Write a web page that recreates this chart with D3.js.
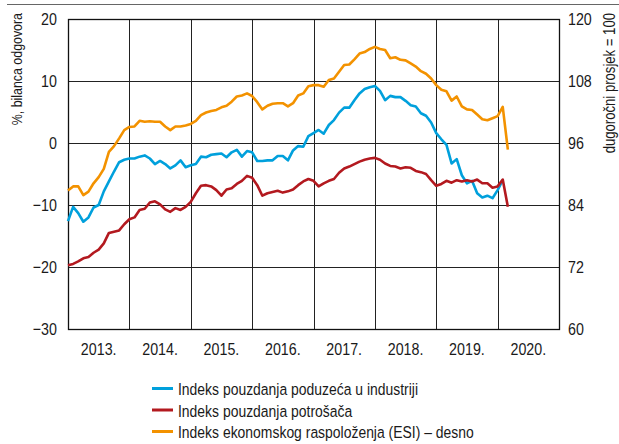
<!DOCTYPE html>
<html>
<head>
<meta charset="utf-8">
<script src="https://cdn.jsdelivr.net/npm/d3@7"></script>
<style>
body{margin:0;background:#fff;}
text{font-family:"Liberation Sans Narrow","Arial Narrow","Liberation Sans",Arial,sans-serif;fill:#1a1a1a;}
</style>
</head>
<body>
<script>
// months from Jan 2013 (index 0) to Mar 2020 (index 86)
var years=["2013.","2014.","2015.","2016.","2017.","2018.","2019.","2020."];
var leftTicks=[-30,-20,-10,0,10,20];
var rightTicks=[60,72,84,96,108,120];

// Indeks pouzdanja poduzeca u industriji (lijevo)
var industry=[-12.6,-10.3,-11.3,-12.7,-12.0,-10.4,-10.0,-7.8,-6.2,-4.6,-3.1,-2.7,
 -2.5,-2.5,-2.2,-2.0,-2.5,-3.4,-2.9,-3.4,-4.1,-3.6,-2.8,-3.9,
 -3.6,-3.4,-2.2,-2.3,-1.9,-1.8,-1.7,-2.3,-1.5,-1.1,-2.2,-1.3,
 -1.5,-2.9,-2.9,-2.8,-2.8,-2.1,-2.1,-2.8,-1.2,-0.5,-0.6,1.1,
 1.6,2.1,1.5,2.9,3.7,4.9,5.7,5.7,6.9,8.0,8.7,9.0,
 9.2,8.4,6.9,7.6,7.4,7.4,6.8,6.1,5.9,4.8,4.4,3.3,
 1.6,0.6,-0.3,-3.3,-2.6,-5.2,-6.5,-6.1,-8.1,-8.8,-8.5,-8.9,
 -7.6,-6.0];

// Indeks pouzdanja potrosaca (lijevo)
var consumer=[-19.7,-19.5,-19.1,-18.6,-18.4,-17.7,-17.2,-16.2,-14.5,-14.3,-14.1,-13.1,
 -12.3,-12.0,-10.8,-10.6,-9.6,-9.4,-9.9,-10.7,-11.1,-10.5,-10.8,-10.3,
 -9.5,-8.1,-6.9,-6.8,-7.0,-7.6,-8.5,-7.5,-7.3,-6.6,-6.1,-5.3,
 -5.6,-6.8,-8.5,-8.1,-7.9,-7.7,-8.0,-7.8,-7.5,-6.8,-6.2,-5.8,
 -6.1,-7.0,-6.5,-6.1,-5.8,-4.8,-4.1,-3.8,-3.4,-3.0,-2.7,-2.5,
 -2.4,-2.7,-3.3,-3.7,-3.8,-4.1,-3.9,-4.0,-4.5,-4.7,-5.0,-6.0,
 -6.9,-6.6,-6.1,-6.4,-6.0,-6.2,-6.0,-6.2,-5.9,-6.5,-6.5,-7.2,
 -7.0,-5.9,-10.3];

// Indeks ekonomskog raspolozenja ESI (desno)
var esi=[86.8,87.6,87.6,85.9,86.6,88.2,89.4,91.0,94.3,95.4,96.9,98.5,
 99.1,99.2,100.3,100.1,100.2,100.1,100.1,99.2,98.5,99.2,99.2,99.4,
 99.7,100.3,101.4,101.9,102.2,102.4,102.9,103.2,104.0,105.0,105.2,105.6,
 105.1,103.9,102.5,103.2,103.6,103.7,103.7,103.1,103.7,105.2,105.6,107.0,
 107.2,107.2,106.9,108.2,108.5,109.8,111.1,111.2,112.2,113.3,113.6,114.2,
 114.6,114.2,114.0,112.4,112.6,112.1,112.0,111.4,110.8,109.9,109.4,108.5,
 107.2,106.3,106.0,104.2,105.0,103.1,102.5,102.4,101.5,100.6,100.4,100.8,
 101.2,103.0,94.7];

var seriesNames=["Indeks pouzdanja poduzeća u industriji","Indeks pouzdanja potrošača","Indeks ekonomskog raspoloženja (ESI) – desno"];
var colors=["#00a0dc","#b3191f","#f39200"];

var W=619,H=444;
var L=68,R=559,T=19,B=329;

var svg=d3.select("body").append("svg").attr("width",W).attr("height",H);

var x=d3.scaleLinear().domain([0,years.length*12]).range([L,R]);
var yL=d3.scaleLinear().domain([-30,20]).range([B,T]);
var yR=d3.scaleLinear().domain([60,120]).range([B,T]);

// no condensed font installed, so squeeze text horizontally
function label(parent,tx,ty,rot,anchor,size,str,sx){
 return parent.append("g").attr("transform","translate("+tx+","+ty+")"+(rot?" rotate("+rot+")":"")+" scale("+(sx||0.84)+",1)")
  .append("text").attr("text-anchor",anchor).attr("font-size",size).text(str);
}

// top rule
svg.append("line").attr("x1",7).attr("x2",W).attr("y1",4.5).attr("y2",4.5)
 .attr("stroke","#666").attr("stroke-width",1);

// grid
svg.append("g").selectAll("line").data(leftTicks).enter().append("line")
 .attr("x1",L).attr("x2",R)
 .attr("y1",function(d){return Math.round(yL(d))+0.5})
 .attr("y2",function(d){return Math.round(yL(d))+0.5})
 .attr("stroke","#222").attr("stroke-width",1);
svg.append("g").selectAll("line").data(d3.range(years.length+1)).enter().append("line")
 .attr("x1",function(d){return Math.round(x(d*12))+0.5})
 .attr("x2",function(d){return Math.round(x(d*12))+0.5})
 .attr("y1",T).attr("y2",B)
 .attr("stroke","#222").attr("stroke-width",1);
svg.append("rect").attr("x",L+0.5).attr("y",T+0.5).attr("width",R-L).attr("height",B-T)
 .attr("fill","none").attr("stroke","#111").attr("stroke-width",1.3);

// tick labels
var ax=svg.append("g");
leftTicks.forEach(function(d){
 label(ax,L-11,yL(d)+6,0,"end",17,d<0?"\u2212"+(-d):String(d));
});
rightTicks.forEach(function(d){
 label(ax,R+9,yR(d)+6,0,"start",17,String(d));
});
years.forEach(function(d,i){
 label(ax,x(i*12+6),355,0,"middle",17,d);
});

// axis titles
label(svg,22,13,-90,"end",15.5,"%, bilanca odgovora",0.8);
label(svg,615,13,-90,"end",16,"dugoročni prosjek = 100",0.82);

// lines
var lineL=d3.line().x(function(d,i){return x(i)}).y(function(d){return yL(d)});
var lineR=d3.line().x(function(d,i){return x(i)}).y(function(d){return yR(d)});

var g=svg.append("g");
g.append("path").datum(industry).attr("d",lineL).attr("fill","none")
 .attr("stroke",colors[0]).attr("stroke-width",2.6).attr("stroke-linejoin","round");
g.append("path").datum(esi).attr("d",lineR).attr("fill","none")
 .attr("stroke",colors[2]).attr("stroke-width",2.6).attr("stroke-linejoin","round");
g.append("path").datum(consumer).attr("d",lineL).attr("fill","none")
 .attr("stroke",colors[1]).attr("stroke-width",2.6).attr("stroke-linejoin","round");

// legend
var leg=svg.append("g");
seriesNames.forEach(function(d,i){
 var yy=388.5+i*21.5;
 leg.append("line").attr("x1",152).attr("x2",173).attr("y1",yy).attr("y2",yy)
  .attr("stroke",colors[i]).attr("stroke-width",3);
 label(leg,178,yy+6.5,0,"start",17,d,0.82);
});
</script>
</body>
</html>
